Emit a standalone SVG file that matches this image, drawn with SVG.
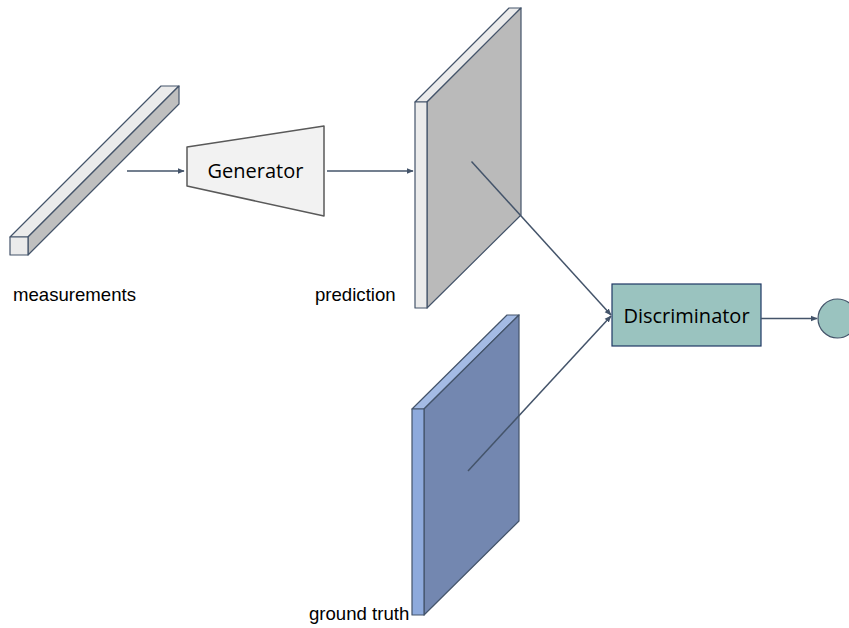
<svg xmlns="http://www.w3.org/2000/svg" width="849" height="628" viewBox="0 0 849 628">
<style>
.edge{stroke:#44546a;stroke-width:1.5;fill:none}
.lbl{font-family:"Liberation Sans",Arial,sans-serif;font-size:18.6px;fill:#000}
.box{font-family:"Open Sans","Noto Sans",sans-serif;font-size:20px;fill:#000}
.outl{stroke:#44546a;stroke-width:1.2;stroke-linejoin:round}
</style>
<defs>
<marker id="ah" viewBox="0 0 10 10" refX="9" refY="5" markerWidth="7" markerHeight="7" orient="auto" markerUnits="userSpaceOnUse">
<path d="M0,1 L10,5 L0,9 z" fill="#44546a"/>
</marker>
</defs>
<rect width="849" height="628" fill="#fff"/>
<g id="measurements">
<polygon class="outl" points="10,237 28,237 179,86 161,86" fill="#ebebeb"/>
<polygon class="outl" points="28,237 28,255 179,104 179,86" fill="#bfbfbf"/>
<rect class="outl" x="10" y="237" width="18" height="18" fill="#ebebeb"/>
<text class="lbl" x="13" y="301">measurements</text>
</g>
<g id="generator">
<polygon points="187,147 324,126 324,216 187,186" fill="#f2f2f2" stroke="#595959" stroke-width="1.5" stroke-linejoin="round"/>
<text class="box" x="255.5" y="178" text-anchor="middle">Generator</text>
</g>
<g id="prediction">
<polygon class="outl" points="415,102 427,102 521,8 509,8" fill="#ebebeb"/>
<polygon class="outl" points="427,102 521,8 521,215 427,308" fill="#bababa"/>
<rect class="outl" x="415" y="102" width="12" height="206" fill="#ebebeb"/>
<text class="lbl" x="315" y="301">prediction</text>
</g>
<g id="ground_truth">
<polygon class="outl" points="412,409 424,409 519,315 507,315" fill="#a4bbe4"/>
<polygon class="outl" points="424,409 519,315 519,521 424,615" fill="#7387b0"/>
<rect class="outl" x="412" y="409" width="12" height="206" fill="#8eaadc"/>
<text class="lbl" x="309" y="620">ground truth</text>
</g>
<g id="discriminator">
<rect x="612" y="284" width="149" height="62" fill="#9ac3bf" stroke="#1f3864" stroke-width="1.2"/>
<text class="box" x="686.5" y="323" text-anchor="middle" font-size="21">Discriminator</text>
</g>
<g id="output">
<circle cx="837.5" cy="318.5" r="19.5" fill="#9ac3bf" stroke="#44546a" stroke-width="1.2"/>
</g>
<g id="connectors">
<line class="edge" x1="127" y1="171" x2="184" y2="171" marker-end="url(#ah)"/>
<line class="edge" x1="327" y1="171" x2="413" y2="171" marker-end="url(#ah)"/>
<line class="edge" x1="471.5" y1="161.5" x2="611" y2="315" marker-end="url(#ah)"/>
<line class="edge" x1="468" y1="471" x2="611" y2="316" marker-end="url(#ah)"/>
<line class="edge" x1="761" y1="318.5" x2="817" y2="318.5" marker-end="url(#ah)"/>
</g>
</svg>
